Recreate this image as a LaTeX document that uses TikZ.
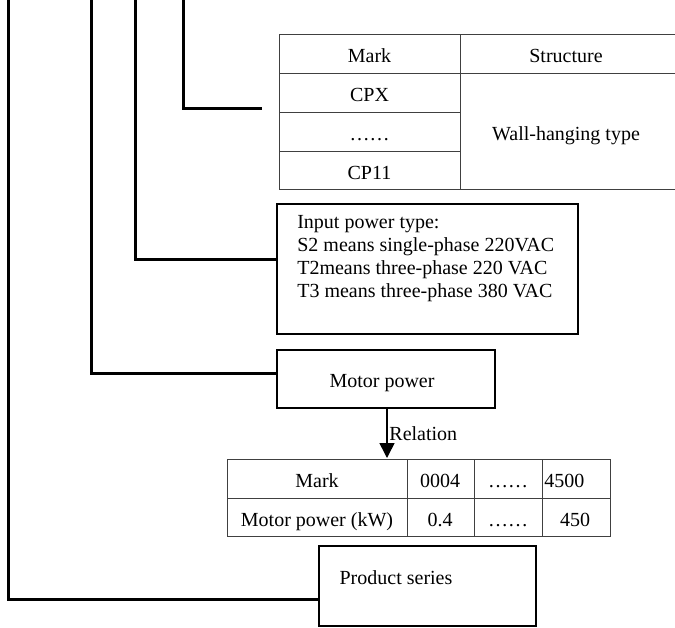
\documentclass[tikz,border=0pt]{standalone}
\usepackage{fontspec}
\setmainfont{Liberation Serif}
\usetikzlibrary{arrows.meta}
\begin{document}
\begin{tikzpicture}[x=0.6pt,y=-0.6pt,
	lead/.style={line width=1.8pt},
	box/.style={draw,line width=1.2pt,inner sep=0pt},
	grid/.style={draw=black!75,line width=0.6pt},
	cell/.style={text height=8.5pt,text depth=2.5pt},
	every node/.style={font=\fontsize{12}{13.8}\selectfont}]
\useasboundingbox (0,0) rectangle (675,627);
\foreach \n / \x in {t1/183, t2/135, t3/91, t4/8}
	\coordinate (\n) at (\x,0);
\coordinate (cpend) at (262,108);
% boxes
\node[box, minimum width=180.6pt, minimum height=78pt] (inbox) at (427.5,269) {};
\node[anchor=north west, align=left, inner sep=0pt] (intext) at (297,215) {Input power type:\\S2 means single-phase 220VAC\\T2means three-phase 220 VAC\\T3 means three-phase 380 VAC};
\node[box, minimum width=130.8pt, minimum height=34.8pt] (motor) at (386,379) {};
\node (motortext) at (382,383) {Motor power};
\node[box, minimum width=130.2pt, minimum height=48pt] (series) at (427.5,586) {};
\node (seriestext) at (396,578) {Product series};
% leads
\draw[lead] (t1) |- (cpend);
\draw[lead] (t2) |- ([yshift=6pt]inbox.west);
\draw[lead] (t3) |- ([yshift=3.6pt]motor.west);
\draw[lead] (t4) |- ([yshift=-7.8pt]series.west);
% structure table
\draw[grid] (675,34) -- (279,34) -- (279,189) -- (675,189);
\draw[grid] (460,34) -- (460,189);
\draw[grid] (279,73) -- (675,73);
\foreach \y in {112,151}
	\draw[grid] (279,\y) -- (460,\y);
\node[cell] (smark) at (369.5,57) {Mark};
\node[cell] (sstruct) at (566,57) {Structure};
\node[cell] (scpx) at (369.5,96) {CPX};
\node[cell] (sdots) at (369.5,135) {\ldots\ldots};
\node[cell] (scp11) at (369.5,174) {CP11};
\node[cell] (swall) at (566,135) {Wall-hanging type};
% relation table
\draw[grid] (227,459) rectangle (610,536);
\draw[grid] (227,498) -- (610,498);
\foreach \x in {407,474,542}
	\draw[grid] (\x,459) -- (\x,536);
\node[cell] (rmark) at (317,482) {Mark};
\node[cell] (r0004) at (440,482) {0004};
\node[cell] (rdots1) at (508,482) {\ldots\ldots};
\node[cell, anchor=west, inner xsep=0pt] (r4500) at (544,482) {4500};
\node[cell] (rpower) at (317,521) {Motor power (kW)};
\node[cell] (r04) at (440,521) {0.4};
\node[cell] (rdots2) at (508,521) {\ldots\ldots};
\node[cell] (r450) at (575,521) {450};
\coordinate (rtop) at (387,458);
\draw[line width=0.9pt, -{Triangle[width=9pt,length=9pt]}] (motor.south -| rtop) -- (rtop) node[midway, right, inner xsep=1pt] (rel) {Relation};
\end{tikzpicture}
\end{document}
